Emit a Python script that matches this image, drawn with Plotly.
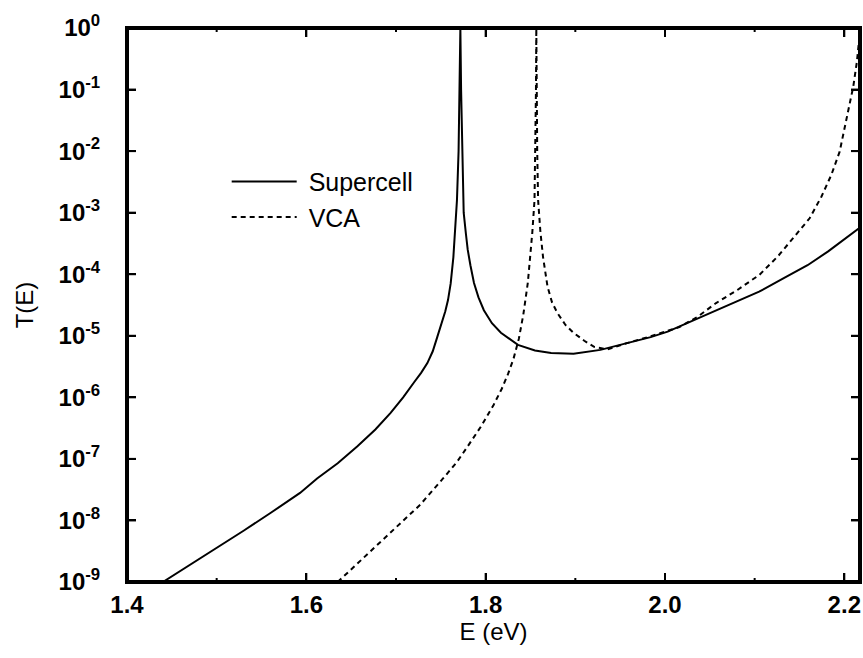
import plotly.graph_objects as go

# Supercell curve (E in eV, transmission T)
sc_E = [1.440, 1.470, 1.500, 1.530, 1.560, 1.593, 1.612, 1.635, 1.657, 1.677,
        1.694, 1.708, 1.720, 1.728, 1.735, 1.741, 1.746, 1.751, 1.755, 1.758,
        1.761, 1.764, 1.766, 1.768, 1.7698, 1.7710, 1.7718, 1.7726, 1.7738, 1.7750,
        1.7755, 1.778, 1.780, 1.783, 1.787, 1.792, 1.798, 1.807, 1.817, 1.836,
        1.855, 1.873, 1.898, 1.928, 1.955, 1.984, 2.003, 2.040, 2.077, 2.105,
        2.133, 2.159, 2.182, 2.2175]
sc_T = [1.0e-9, 1.9e-9, 3.5e-9, 6.8e-9, 1.32e-8, 2.8e-8, 4.8e-8, 8.5e-8, 1.6e-7, 3.0e-7,
        5.6e-7, 1.0e-6, 1.74e-6, 2.5e-6, 3.6e-6, 5.6e-6, 9.5e-6, 1.6e-5, 2.5e-5, 3.8e-5,
        7.1e-5, 1.9e-4, 5.0e-4, 1.6e-3, 1.0e-2, 1.0e-1, 1.0, 1.0e-1, 1.0e-2, 1.6e-3,
        1.0e-3, 4.5e-4, 2.5e-4, 1.4e-4, 7.2e-5, 4.2e-5, 2.6e-5, 1.6e-5, 1.12e-5, 7.1e-6,
        5.75e-6, 5.25e-6, 5.1e-6, 5.9e-6, 7.4e-6, 9.5e-6, 1.17e-5, 2.0e-5, 3.4e-5, 5.2e-5,
        8.7e-5, 1.4e-4, 2.35e-4, 5.75e-4]

# VCA curve
vca_E = [1.635, 1.660, 1.688, 1.710, 1.727, 1.753, 1.768, 1.780, 1.795, 1.809,
         1.818, 1.825, 1.831, 1.837, 1.842, 1.847, 1.850, 1.852, 1.8545, 1.8555,
         1.8561, 1.8565, 1.8569, 1.8575, 1.8585, 1.861, 1.864, 1.869, 1.874, 1.880,
         1.889, 1.898, 1.910, 1.921, 1.936, 1.955, 1.984, 2.016, 2.0365, 2.057,
         2.0812, 2.1054, 2.1259, 2.1445, 2.1613, 2.1743, 2.1855, 2.1948, 2.2045, 2.210,
         2.214, 2.2175]
vca_T = [1.0e-9, 2.2e-9, 5.2e-9, 1.05e-8, 1.8e-8, 4.9e-8, 8.9e-8, 1.6e-7, 3.4e-7, 7.6e-7,
         1.38e-6, 2.4e-6, 4.2e-6, 8.9e-6, 2.2e-5, 7.2e-5, 2.0e-4, 4.7e-4, 1.6e-3, 1.0e-2,
         1.0e-1, 1.0, 1.0e-1, 1.0e-2, 1.6e-3, 5.0e-4, 1.9e-4, 6.3e-5, 3.5e-5, 2.35e-5,
         1.5e-5, 1.12e-5, 8.3e-6, 6.6e-6, 6.0e-6, 7.4e-6, 9.8e-6, 1.38e-5, 2.04e-5, 3.4e-5,
         5.6e-5, 9.8e-5, 1.95e-4, 4.1e-4, 8.1e-4, 1.8e-3, 4.1e-3, 9.8e-3, 4.7e-2, 1.12e-1,
         2.8e-1, 8.9e-1]

x_range = [1.4, 2.2175]
y_log_range = [-9, 0]
x_ticks = [1.4, 1.6, 1.8, 2.0, 2.2]
x_ticklabels = ["<b>1.4</b>", "<b>1.6</b>", "<b>1.8</b>", "<b>2.0</b>", "<b>2.2</b>"]
x_minor_ticks = [1.5, 1.7, 1.9, 2.1]
y_ticks = [1, 1e-1, 1e-2, 1e-3, 1e-4, 1e-5, 1e-6, 1e-7, 1e-8, 1e-9]
y_ticklabels = ["<b>10<sup>0</sup></b>", "<b>10<sup>-1</sup></b>", "<b>10<sup>-2</sup></b>",
                "<b>10<sup>-3</sup></b>", "<b>10<sup>-4</sup></b>", "<b>10<sup>-5</sup></b>",
                "<b>10<sup>-6</sup></b>", "<b>10<sup>-7</sup></b>", "<b>10<sup>-8</sup></b>",
                "<b>10<sup>-9</sup></b>"]
PAD = "\u00a0\u00a0\u00a0"

FONT = "Liberation Sans, Arial, sans-serif"
W, H = 863, 658
ML, MR, MT, MB = 127, 3, 28, 76
PW, PH = W - ML - MR, H - MT - MB
MAJOR_LEN, MINOR_LEN = 9, 4

x_lo, x_hi = x_range
y_lo, y_hi = 10.0 ** y_log_range[0], 10.0 ** y_log_range[1]
x_per_px = (x_hi - x_lo) / PW
dec_per_px = (y_log_range[1] - y_log_range[0]) / PH

fig = go.Figure()
fig.add_trace(go.Scatter(x=sc_E, y=sc_T, mode="lines", name="\u00a0Supercell",
                         line=dict(color="black", width=2)))
fig.add_trace(go.Scatter(x=vca_E, y=vca_T, mode="lines", name="\u00a0VCA",
                         line=dict(color="black", width=2, dash="5px,4px")))

# plot frame on the axis range limits
fig.add_trace(go.Scatter(x=[x_lo, x_hi, x_hi, x_lo, x_lo], y=[y_lo, y_lo, y_hi, y_hi, y_lo],
                         mode="lines", line=dict(color="black", width=4),
                         showlegend=False, hoverinfo="skip"))

# inward tick marks on all four sides
tx, ty = [], []
for vals, ln in ((x_ticks, MAJOR_LEN), (x_minor_ticks, MINOR_LEN)):
    up = 10.0 ** (ln * dec_per_px)
    for v in vals:
        tx += [v, v, None, v, v, None]
        ty += [y_lo, y_lo * up, None, y_hi / up, y_hi, None]
dx = MAJOR_LEN * x_per_px
for v in y_ticks:
    tx += [x_lo, x_lo + dx, None, x_hi - dx, x_hi, None]
    ty += [v, v, None, v, v, None]
fig.add_trace(go.Scatter(x=tx, y=ty, mode="lines", line=dict(color="black", width=2),
                         showlegend=False, hoverinfo="skip"))

fig.update_layout(
    width=W, height=H,
    margin=dict(l=ML, r=MR, t=MT, b=MB),
    paper_bgcolor="white", plot_bgcolor="white",
    font=dict(family=FONT, size=24, color="black"),
    showlegend=True,
    legend=dict(x=0.136, y=0.764, xanchor="left", yanchor="top",
                bgcolor="rgba(0,0,0,0)", borderwidth=0,
                font=dict(family=FONT, size=25, color="black"),
                itemwidth=65),
    xaxis=dict(range=x_range, tickmode="array", tickvals=x_ticks, ticktext=x_ticklabels,
               ticks="inside", ticklen=MAJOR_LEN, tickwidth=1.5, tickcolor="black",
               showline=True, linewidth=2, linecolor="black", mirror="ticks",
               showgrid=False, zeroline=False, automargin=False,
               title=dict(text="E (eV)", font=dict(family=FONT, size=24), standoff=4)),
    yaxis=dict(type="log", range=y_log_range, tickmode="array", tickvals=y_ticks,
               ticktext=[t + PAD for t in y_ticklabels],
               ticks="inside", ticklen=MAJOR_LEN, tickwidth=1.5, tickcolor="black",
               showline=True, linewidth=2, linecolor="black", mirror="ticks",
               showgrid=False, zeroline=False, automargin=False,
               title=dict(text="T(E)", font=dict(family=FONT, size=24), standoff=18)),
)

fig.write_html("out.html", config={"displayModeBar": False},
               post_script="document.body.style.margin='0px';")
